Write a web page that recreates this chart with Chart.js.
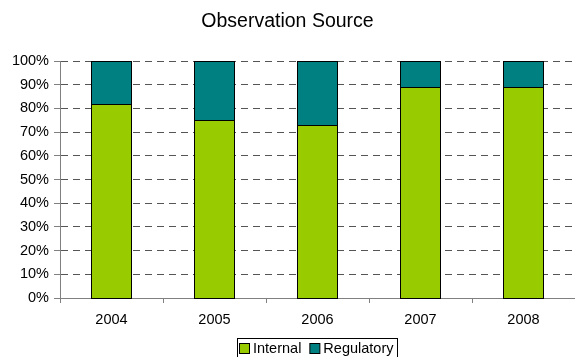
<!DOCTYPE html>
<html>
<head>
<meta charset="utf-8">
<title>Observation Source</title>
<script src="https://cdn.jsdelivr.net/npm/chart.js@4.4.1/dist/chart.umd.min.js"></script>
<style>
  html, body { margin: 0; padding: 0; background: #ffffff; }
  #wrap { width: 575px; height: 357px; position: relative; }
</style>
</head>
<body>
<div id="wrap"><canvas id="chart"></canvas></div>
<script>
// Share of observations by source, per year (percent of total)
const years = ['2004', '2005', '2006', '2007', '2008'];
const internalShare = [82, 75, 73, 89, 89];
const regulatoryShare = [18, 25, 27, 11, 11];
const seriesNames = ['Internal', 'Regulatory'];
const seriesColors = ['#99CC00', '#008080'];
const percentTicks = [0, 10, 20, 30, 40, 50, 60, 70, 80, 90, 100];

const FONT = "'Liberation Sans', Arial, sans-serif";

// Repaint each bar segment snapped to whole pixels, with a crisp 1px black outline
const crispBars = {
  id: 'crispBars',
  afterDatasetsDraw(chart) {
    const ctx = chart.ctx;
    ctx.save();
    ctx.lineWidth = 1;
    chart.data.datasets.forEach((ds, di) => {
      const meta = chart.getDatasetMeta(di);
      meta.data.forEach(el => {
        const p = el.getProps(['x', 'y', 'base', 'width'], true);
        const l = Math.round(p.x - p.width / 2);
        const r = Math.round(p.x + p.width / 2);
        const t = Math.round(p.y);
        const b = Math.round(p.base);
        ctx.fillStyle = ds.backgroundColor;
        ctx.fillRect(l, t, r - l, b - t + 1);
        ctx.strokeStyle = '#000';
        ctx.strokeRect(l + 0.5, t + 0.5, r - l - 1, b - t);
      });
    });
    ctx.restore();
  }
};

// Boxed legend centred under the plot area
const boxedLegend = {
  id: 'boxedLegend',
  afterDraw(chart) {
    const ctx = chart.ctx;
    const area = chart.chartArea;
    ctx.save();
    ctx.font = '14.5px ' + FONT;
    ctx.textBaseline = 'middle';
    const sq = 10, gapAfterSq = 4, gapBetween = 8, padL = 2, padR = 4;
    const items = chart.data.datasets.map(ds => ({
      label: ds.label, color: ds.backgroundColor, w: ctx.measureText(ds.label).width
    }));
    let total = padL + padR;
    items.forEach((it, i) => { total += sq + gapAfterSq + it.w + (i ? gapBetween : 0); });
    const cx = (area.left + area.right) / 2;
    const left = Math.round(cx - total / 2);
    const top = 338;
    ctx.strokeStyle = '#000';
    ctx.lineWidth = 1;
    ctx.strokeRect(left + 0.5, top + 0.5, Math.round(total), 30);
    let x = left + padL;
    const midY = 348;
    items.forEach((it, i) => {
      if (i) x += gapBetween;
      ctx.fillStyle = it.color;
      ctx.fillRect(x + 0.5, midY - 5 + 0.5, sq, sq);
      ctx.strokeRect(x + 0.5, midY - 5 + 0.5, sq, sq);
      x += sq + gapAfterSq;
      ctx.fillStyle = '#000';
      ctx.textAlign = 'left';
      ctx.fillText(it.label, x, midY + 1);
      x += it.w;
    });
    ctx.restore();
  }
};

new Chart(document.getElementById('chart'), {
  type: 'bar',
  data: {
    labels: years,
    datasets: [
      { label: seriesNames[0], data: internalShare, backgroundColor: seriesColors[0] },
      { label: seriesNames[1], data: regulatoryShare, backgroundColor: seriesColors[1] }
    ]
  },
  options: {
    responsive: true,
    maintainAspectRatio: false,
    animation: false,
    layout: { padding: { left: 0, right: 0, top: 0, bottom: 0 } },
    datasets: {
      bar: {
        borderWidth: 0,
        inflateAmount: 0,
        barThickness: 41
      }
    },
    plugins: {
      legend: { display: false },
      tooltip: { enabled: false },
      title: {
        display: true,
        text: 'Observation Source',
        color: '#000',
        font: { family: FONT, size: 19.5, weight: 'normal', lineHeight: 1.2 },
        padding: { top: 9.5, bottom: 28.1 }
      }
    },
    scales: {
      x: {
        stacked: true,
        offset: true,
        grid: {
          display: true,
          offset: true,
          drawOnChartArea: false,
          drawTicks: true,
          tickLength: 5,
          tickColor: '#808080',
          color: '#808080'
        },
        border: { display: true, color: '#808080', width: 1 },
        ticks: {
          color: '#000',
          font: { family: FONT, size: 14.5 },
          padding: 8,
          maxRotation: 0,
          autoSkip: false
        },
        afterFit(scale) { scale.height = 59; }
      },
      y: {
        stacked: true,
        min: 0,
        max: 100,
        afterBuildTicks(scale) { scale.ticks = percentTicks.map(v => ({ value: v })); },
        grid: {
          color: '#555555',
          lineWidth: 1,
          drawTicks: true,
          tickLength: 6,
          tickColor: '#808080',
          tickBorderDash: []
        },
        border: { display: true, color: '#808080', width: 1, dash: [7, 5] },
        ticks: {
          color: '#000',
          font: { family: FONT, size: 14.5 },
          padding: 5,
          callback: v => v + '%'
        },
        afterFit(scale) { scale.width = 60; }
      }
    }
  },
  plugins: [crispBars, boxedLegend]
});
</script>
</body>
</html>
